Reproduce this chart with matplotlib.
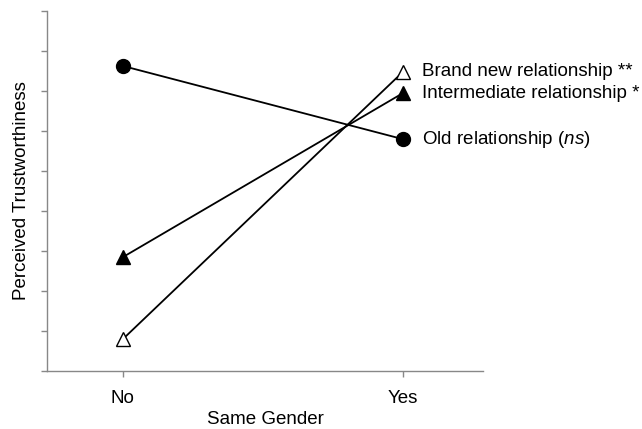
import matplotlib
matplotlib.use("Agg")
import matplotlib.pyplot as plt

plt.rcParams['font.family'] = ['Liberation Sans', 'DejaVu Sans']
plt.rcParams['mathtext.fontset'] = 'custom'
plt.rcParams['mathtext.it'] = 'Liberation Sans:italic'
plt.rcParams['mathtext.rm'] = 'Liberation Sans'

conditions = ['No', 'Yes']
old_rel = [7.62, 5.79]
intermediate_rel = [2.84, 6.94]
brand_new_rel = [0.79, 7.47]
labels = ['Brand new relationship **', 'Intermediate relationship *',
          r'Old relationship ($\mathit{ns}$)']

fig = plt.figure(figsize=(6.42, 4.29), dpi=100)
ax = fig.add_axes([0.0732, 0.1359, 0.679, 0.839])
x = [0, 1]

ax.plot(x, old_rel, color='black', lw=1.3, marker='o', ms=10,
        mfc='black', mec='black', clip_on=False)
ax.plot(x, intermediate_rel, color='black', lw=1.3, marker='^', ms=10,
        mfc='black', mec='black', clip_on=False)
ax.plot(x, brand_new_rel, color='black', lw=1.3, marker='^', ms=10,
        mfc='white', mec='black', mew=1.0, clip_on=False)

# labels next to the "Yes" end of each line
label_y = [brand_new_rel[1], intermediate_rel[1], old_rel[1]]
for lab, yy in zip(labels, label_y):
    ax.annotate(lab, xy=(1, yy), xytext=(14, 0), textcoords='offset points',
                va='center', ha='left', fontsize=13.5, annotation_clip=False)

ax.set_xlim(-0.271, 1.286)
ax.set_ylim(0, 9)
ax.set_xticks(x)
ax.set_xticklabels(conditions, fontsize=13.5)
ax.set_yticks(range(10))
ax.set_yticklabels([])
ax.set_xlabel('Same Gender', fontsize=13.5, labelpad=3)
ax.set_ylabel('Perceived Trustworthiness', fontsize=13.5, labelpad=5)

for side in ['top', 'right']:
    ax.spines[side].set_visible(False)
for side in ['left', 'bottom']:
    ax.spines[side].set_color('#888888')
    ax.spines[side].set_linewidth(1.0)
ax.tick_params(axis='both', colors='#888888', length=4, width=1.0,
               labelcolor='black')
ax.tick_params(axis='x', pad=10)

fig.savefig('out.png', dpi=100)
